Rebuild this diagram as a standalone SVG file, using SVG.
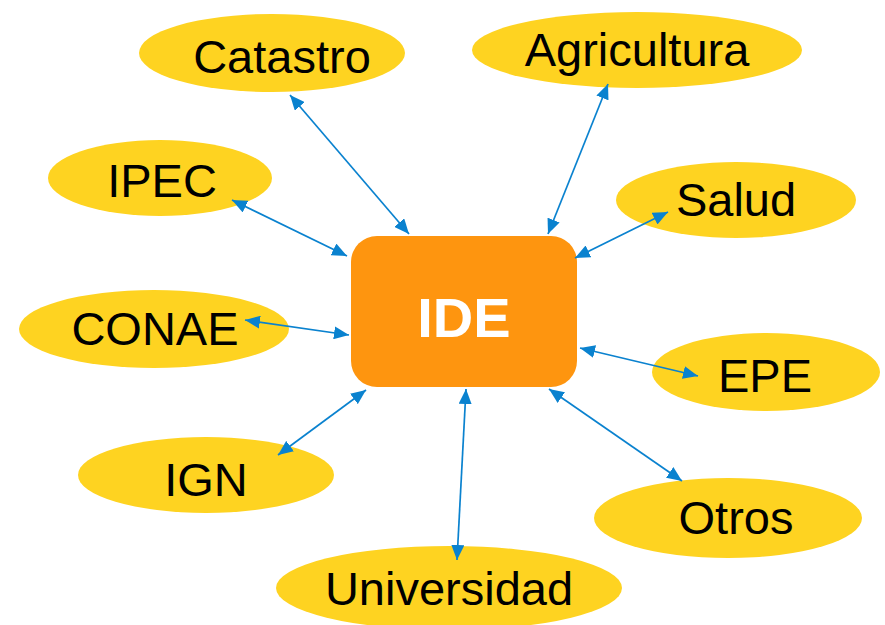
<svg xmlns="http://www.w3.org/2000/svg" width="885" height="625" viewBox="0 0 885 625">
<defs>
<style>
.n ellipse{fill:#FED321;}
.n text{font-family:"Liberation Sans",Arial,sans-serif;font-size:47px;fill:#000;text-anchor:middle;}
.c line{stroke:#0A82CF;stroke-width:1.7;marker-start:url(#ah);marker-end:url(#ah);}
</style>
<marker id="ah" viewBox="0 0 15 13" refX="15" refY="6.5" markerWidth="15" markerHeight="13" markerUnits="userSpaceOnUse" orient="auto-start-reverse">
<path d="M0,0 L15,6.5 L0,13 Z" fill="#0A82CF"/>
</marker>
</defs>
<rect width="885" height="625" fill="#fff"/>
<g id="catastro" class="n"><ellipse cx="272" cy="53" rx="133" ry="39"/><text x="282" y="73">Catastro</text></g>
<g id="agricultura" class="n"><ellipse cx="637" cy="50" rx="165" ry="38"/><text x="637" y="66">Agricultura</text></g>
<g id="ipec" class="n"><ellipse cx="160" cy="178" rx="112" ry="38"/><text x="162" y="197">IPEC</text></g>
<g id="salud" class="n"><ellipse cx="736" cy="200" rx="120" ry="38"/><text x="736" y="216">Salud</text></g>
<g id="conae" class="n"><ellipse cx="154" cy="329" rx="135" ry="39"/><text x="155" y="345">CONAE</text></g>
<g id="epe" class="n"><ellipse cx="766" cy="372" rx="114" ry="39"/><text x="765" y="392">EPE</text></g>
<g id="ign" class="n"><ellipse cx="206" cy="475" rx="128" ry="38"/><text x="206" y="496">IGN</text></g>
<g id="otros" class="n"><ellipse cx="728" cy="518" rx="134" ry="40"/><text x="736" y="534">Otros</text></g>
<g id="universidad" class="n"><ellipse cx="449" cy="588" rx="173" ry="42"/><text x="449" y="605">Universidad</text></g>
<g id="ide"><rect x="351" y="236" width="226" height="151" rx="26" ry="26" fill="#FE950F"/><text x="464" y="337" font-family="'Liberation Sans',Arial,sans-serif" font-size="56" font-weight="bold" fill="#fff" text-anchor="middle">IDE</text></g>
<g id="connectors" class="c">
<line x1="290" y1="95" x2="409" y2="234"/>
<line x1="608" y1="84" x2="548" y2="234"/>
<line x1="232" y1="200" x2="347" y2="256"/>
<line x1="668" y1="212" x2="575" y2="258"/>
<line x1="245" y1="320" x2="349" y2="335"/>
<line x1="580" y1="348" x2="698" y2="376"/>
<line x1="278" y1="455" x2="366" y2="390"/>
<line x1="549" y1="389" x2="682" y2="481"/>
<line x1="466" y1="389" x2="457" y2="560"/>
</g>
</svg>
